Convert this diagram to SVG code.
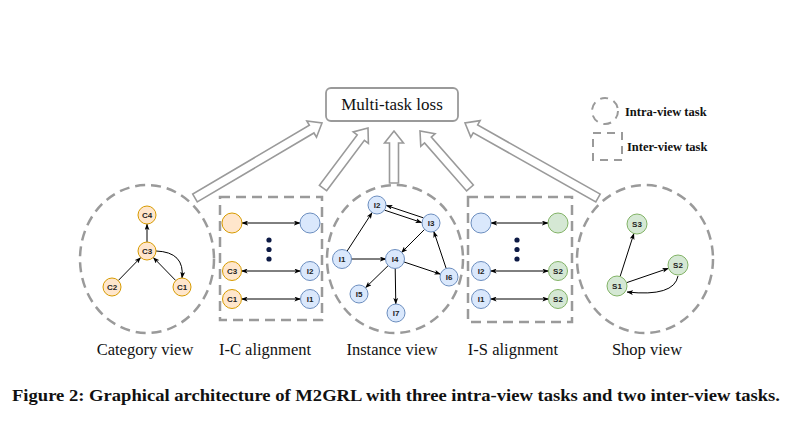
<svg xmlns="http://www.w3.org/2000/svg" width="786" height="421" viewBox="0 0 786 421">
<style>
.bg{fill:#ffffff}
.dash{fill:none;stroke:#9a9a9a;stroke-width:2.5;stroke-dasharray:10 6}
.dashs{fill:none;stroke:#9a9a9a;stroke-width:2;stroke-dasharray:8 6}
.blk{fill:#ffffff;stroke:#9a9a9a;stroke-width:1.6;stroke-linejoin:miter}
.loss{fill:#ffffff;stroke:#9a9a9a;stroke-width:1.8}
.c{fill:#ffe6cc;stroke:#d79b00;stroke-width:1}
.i{fill:#dae8fc;stroke:#6c8ebf;stroke-width:1}
.s{fill:#d5e8d4;stroke:#82b366;stroke-width:1}
.nt{font-family:"Liberation Sans",Arial,sans-serif;font-weight:bold;font-size:8px;fill:#222;text-anchor:middle}
.e{fill:none;stroke:#000;stroke-width:1;marker-end:url(#ah)}
.d{fill:none;stroke:#000;stroke-width:1;marker-end:url(#ah);marker-start:url(#ah)}
.dot{fill:#0d1a45}
.lab{font-family:"Liberation Serif","Times New Roman",serif;font-size:16.5px;fill:#111}
.leg{font-family:"Liberation Serif","Times New Roman",serif;font-size:12.5px;font-weight:bold;fill:#111}
.cap{font-family:"Liberation Serif","Times New Roman",serif;font-size:17px;font-weight:bold;fill:#111}
</style>
<defs>
<marker id="ah" viewBox="0 0 8 6" refX="7.5" refY="3" markerWidth="6.5" markerHeight="5" markerUnits="userSpaceOnUse" orient="auto-start-reverse">
<path d="M0,0 L8,3 L0,6 L2,3 z" fill="#000"/>
</marker>
</defs>
<rect class="bg" x="0" y="0" width="786" height="421"/>

<g id="loss">
<rect class="loss" x="326" y="88" width="132" height="33" rx="5"/>
<text x="392" y="110" text-anchor="middle" font-family="'Liberation Serif','Times New Roman',serif" font-size="17" fill="#111">Multi-task loss</text>
</g>

<g id="legend">
<circle class="dashs" cx="605" cy="111" r="13"/>
<text class="leg" x="625" y="116">Intra-view task</text>
<rect class="dashs" x="593" y="133" width="29" height="27"/>
<text class="leg" x="627" y="151">Inter-view task</text>
</g>

<g id="block-arrows">
<polygon class="blk" points="197.29,201.87 313.96,132.97 316.5,137.28 322,123 306.84,120.92 309.38,125.23 192.71,194.13"/>
<polygon class="blk" points="326.6,190.7 364.4,140.3 368.4,143.3 368,128 353.2,131.9 357.2,134.9 319.4,185.3"/>
<polygon class="blk" points="398.5,183 398.5,143 403.5,143 394,131 384.5,143 389.5,143 389.5,183"/>
<polygon class="blk" points="473.38,185.03 431.3,137.05 435.06,133.75 420,131 420.78,146.29 424.54,142.99 466.62,190.97"/>
<polygon class="blk" points="600.21,194.08 477.66,124.97 480.12,120.62 465,123 470.78,137.16 473.24,132.81 595.79,201.92"/>
</g>

<g id="category-view">
<ellipse class="dash" cx="147" cy="259" rx="67" ry="74"/>
<text class="lab" x="145" y="355" text-anchor="middle">Category view</text>
</g>
<g id="ic-alignment">
<rect class="dash" x="220" y="197" width="102" height="123"/>
<text class="lab" x="265" y="355" text-anchor="middle">I-C alignment</text>
</g>
<g id="instance-view">
<ellipse class="dash" cx="395" cy="259" rx="68" ry="74"/>
<text class="lab" x="392" y="355" text-anchor="middle">Instance view</text>
</g>
<g id="is-alignment">
<rect class="dash" x="468" y="197" width="104" height="125"/>
<text class="lab" x="513" y="355" text-anchor="middle">I-S alignment</text>
</g>
<g id="shop-view">
<ellipse class="dash" cx="645" cy="259" rx="68" ry="74"/>
<text class="lab" x="647" y="355" text-anchor="middle">Shop view</text>
</g>

<g id="connectors">
<path class="e" d="M147,242 L147,224"/>
<path class="e" d="M118.3,280.5 L140.7,257.5"/>
<path class="e" d="M175.7,280.5 L153.3,257.5"/>
<path class="e" d="M156,251 Q185,252 182,278"/>
<path class="d" d="M242,223 L300,223"/>
<path class="d" d="M241.5,271 L300.5,271"/>
<path class="d" d="M241.5,299 L300.5,299"/>
<path class="e" d="M346.9,251.4 L372.1,212.6"/>
<path class="e" d="M423.25,217.79 L386.33,205.47"/>
<path class="e" d="M384.75,210.21 L421.67,222.53"/>
<path class="e" d="M424.6,229.4 L401.4,252.6"/>
<path class="e" d="M351,259 L386,259"/>
<path class="e" d="M403.5,261.8 L440.5,274.2"/>
<path class="e" d="M446.2,268.5 L433.8,231.5"/>
<path class="e" d="M388.5,265.3 L365.5,287.7"/>
<path class="e" d="M395.2,268 L395.8,304"/>
<path class="d" d="M491,223 L548,223"/>
<path class="d" d="M490.5,271 L548.5,271"/>
<path class="d" d="M490.5,299 L548.5,299"/>
<path class="e" d="M620.1,276.5 L633.9,233.5"/>
<path class="e" d="M626.5,282.7 L668.5,268.3"/>
<path class="e" d="M678,276 Q674,297 627,292"/>
</g>

<g id="ic-dots"><circle class="dot" cx="269" cy="240" r="2.6"/><circle class="dot" cx="269" cy="249.5" r="2.6"/><circle class="dot" cx="269" cy="259" r="2.6"/></g>
<g id="is-dots"><circle class="dot" cx="517" cy="240" r="2.6"/><circle class="dot" cx="517" cy="249.5" r="2.6"/><circle class="dot" cx="517" cy="259" r="2.6"/></g>

<g id="C4"><circle class="c" cx="147" cy="215" r="9"/><text class="nt" x="147" y="217.8">C4</text></g>
<g id="C3"><circle class="c" cx="147" cy="251" r="9"/><text class="nt" x="147" y="253.8">C3</text></g>
<g id="C2"><circle class="c" cx="112" cy="287" r="9"/><text class="nt" x="112" y="289.8">C2</text></g>
<g id="C1"><circle class="c" cx="182" cy="287" r="9"/><text class="nt" x="182" y="289.8">C1</text></g>

<g id="ic-c-top"><circle class="c" cx="232" cy="223" r="10"/></g>
<g id="ic-i-top"><circle class="i" cx="310" cy="223" r="10"/></g>
<g id="ic-C3"><circle class="c" cx="232" cy="271" r="9.5"/><text class="nt" x="232" y="273.8">C3</text></g>
<g id="ic-I2"><circle class="i" cx="310" cy="271" r="9.5"/><text class="nt" x="310" y="273.8">I2</text></g>
<g id="ic-C1"><circle class="c" cx="232" cy="299" r="9.5"/><text class="nt" x="232" y="301.8">C1</text></g>
<g id="ic-I1"><circle class="i" cx="310" cy="299" r="9.5"/><text class="nt" x="310" y="301.8">I1</text></g>

<g id="I2"><circle class="i" cx="377" cy="205" r="9"/><text class="nt" x="377" y="207.8">I2</text></g>
<g id="I3"><circle class="i" cx="431" cy="223" r="9"/><text class="nt" x="431" y="225.8">I3</text></g>
<g id="I1"><circle class="i" cx="342" cy="259" r="9.5"/><text class="nt" x="342" y="261.8">I1</text></g>
<g id="I4"><circle class="i" cx="395" cy="259" r="9.5"/><text class="nt" x="395" y="261.8">I4</text></g>
<g id="I6"><circle class="i" cx="449" cy="277" r="9"/><text class="nt" x="449" y="279.8">I6</text></g>
<g id="I5"><circle class="i" cx="359" cy="294" r="9"/><text class="nt" x="359" y="296.8">I5</text></g>
<g id="I7"><circle class="i" cx="396" cy="313" r="9"/><text class="nt" x="396" y="315.8">I7</text></g>

<g id="is-i-top"><circle class="i" cx="481" cy="223" r="10"/></g>
<g id="is-s-top"><circle class="s" cx="558" cy="223" r="10"/></g>
<g id="is-I2"><circle class="i" cx="481" cy="271" r="9.5"/><text class="nt" x="481" y="273.8">I2</text></g>
<g id="is-S2a"><circle class="s" cx="558" cy="271" r="9.5"/><text class="nt" x="558" y="273.8">S2</text></g>
<g id="is-I1"><circle class="i" cx="481" cy="299" r="9.5"/><text class="nt" x="481" y="301.8">I1</text></g>
<g id="is-S2b"><circle class="s" cx="558" cy="299" r="9.5"/><text class="nt" x="558" y="301.8">S2</text></g>

<g id="S3"><circle class="s" cx="637" cy="224" r="10"/><text class="nt" x="637" y="226.8">S3</text></g>
<g id="S2"><circle class="s" cx="678" cy="265" r="10"/><text class="nt" x="678" y="267.8">S2</text></g>
<g id="S1"><circle class="s" cx="617" cy="286" r="10"/><text class="nt" x="617" y="288.8">S1</text></g>

<text class="cap" x="12" y="401" textLength="768" lengthAdjust="spacingAndGlyphs">Figure 2: Graphical architecture of M2GRL with three intra-view tasks and two inter-view tasks.</text>
</svg>
